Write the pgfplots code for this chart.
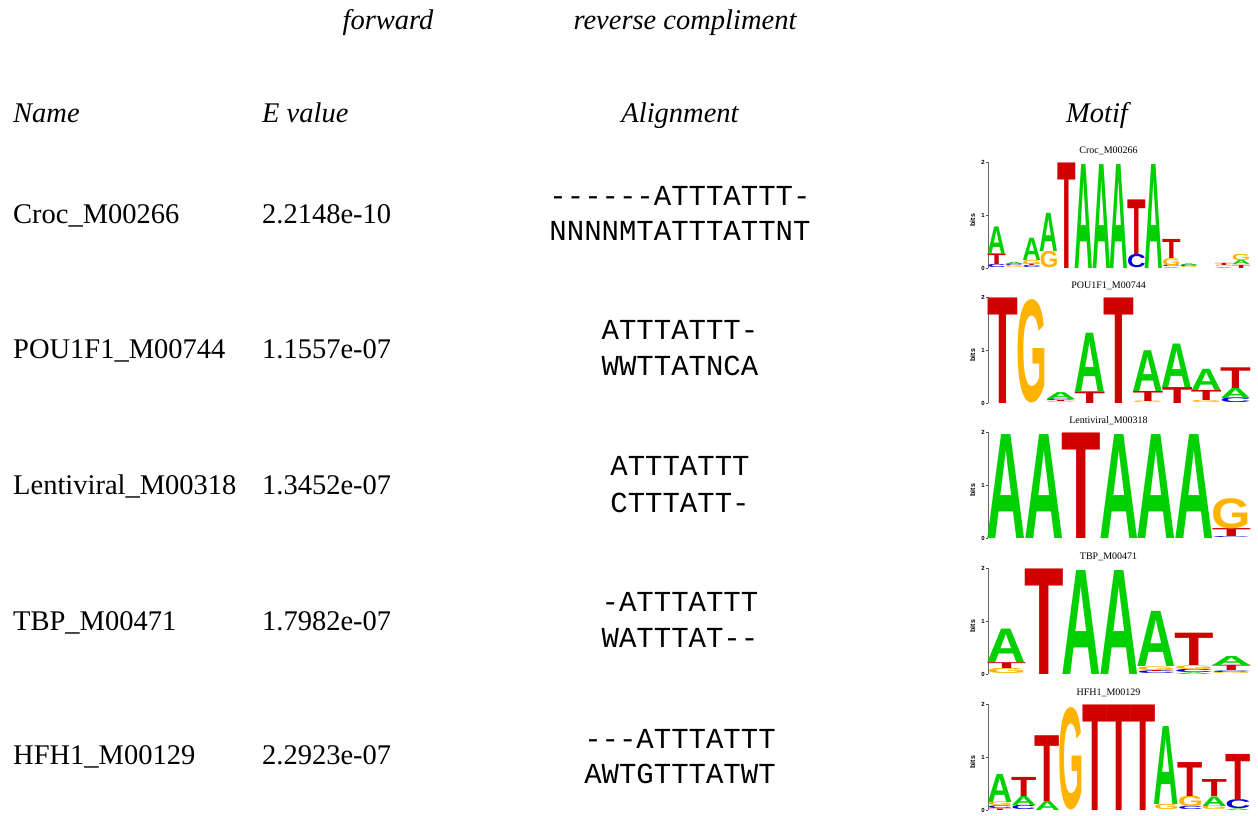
\documentclass[border=0pt]{standalone}
\usepackage{pgfplots}
\pgfplotsset{compat=1.18}
\usepackage{graphicx}
\usepackage{fontspec}
\setmainfont{Liberation Serif}
\setmonofont{Liberation Mono}
\newfontfamily\logofont{Liberation Sans}
\newfontfamily\sansfont{Liberation Sans}
\definecolor{cA}{RGB}{0,208,0}
\definecolor{cC}{RGB}{0,0,210}
\definecolor{cG}{RGB}{255,178,0}
\definecolor{cT}{RGB}{208,0,0}

\newcommand\bigtxt{\fontsize{28.5}{34}\selectfont}
\newcommand\mon{\fontsize{29}{34}\selectfont\ttfamily}

\pgfplotsset{
  logo/.style={
    scale only axis, width=262pt, height=106pt,
    anchor=south west,
    ymin=0, ymax=2, xmin=0.5, xmax=#1+0.5,
    axis x line=none, axis y line*=left,
    ytick={0,1,2}, tick align=outside, major tick length=2pt,
    y axis line style={black!60, line width=0.5pt},
    ytick style={black!70, line width=0.4pt},
    yticklabel style={font=\sansfont\bfseries\fontsize{6}{6}\selectfont, inner sep=1pt},
    /pgf/number format/assume math mode=true,
    ylabel={bits}, ylabel style={font=\sansfont\bfseries\fontsize{7}{7}\selectfont, at={(axis description cs:-0.035,0.45)}, anchor=south},
    title style={font=\fontsize{10}{10}\selectfont, at={(axis description cs:0.46,1)}, anchor=south, inner sep=1pt},
    clip=false,
  },
  letters/.style={
    draw=none, mark=none, forget plot,
    visualization depends on={value \thisrow{h} \as \lh},
    visualization depends on={value \thisrow{L} \as \nuc},
    nodes near coords={\pgfmathsetlengthmacro{\hh}{\lh*53pt}\resizebox*{#1}{\hh}{\logofont\bfseries\textcolor{c\nuc}{\nuc}}},
    every node near coord/.append style={anchor=south, inner sep=0pt, outer sep=0pt},
  }
}

\begin{document}
\begin{tikzpicture}[x=1pt,y=1pt]
\useasboundingbox (0,0) rectangle (1258,-815);

% headers
\node[anchor=base, inner sep=0pt] at (388,-29) {\bigtxt\itshape forward};
\node[anchor=base, inner sep=0pt] at (685,-29) {\bigtxt\itshape reverse compliment};
\node[anchor=base west, inner sep=0pt] at (13,-122) {\bigtxt\itshape Name};
\node[anchor=base west, inner sep=0pt] at (262,-122) {\bigtxt\itshape E value};
\node[anchor=base, inner sep=0pt] at (680,-122) {\bigtxt\itshape Alignment};
\node[anchor=base, inner sep=0pt] at (1097,-122) {\bigtxt\itshape Motif};

% rows
\node[anchor=base west, inner sep=0pt] at (13,-223) {\bigtxt Croc\_M00266};
\node[anchor=base west, inner sep=0pt] at (262,-223) {\bigtxt 2.2148e-10};
\node[anchor=base, inner sep=0pt] at (680,-205) {\mon ------ATTTATTT-};
\node[anchor=base, inner sep=0pt] at (680,-240) {\mon NNNNMTATTTATTNT};

\node[anchor=base west, inner sep=0pt] at (13,-358) {\bigtxt POU1F1\_M00744};
\node[anchor=base west, inner sep=0pt] at (262,-358) {\bigtxt 1.1557e-07};
\node[anchor=base, inner sep=0pt] at (680,-339) {\mon ATTTATTT-};
\node[anchor=base, inner sep=0pt] at (680,-375) {\mon WWTTATNCA};

\node[anchor=base west, inner sep=0pt] at (13,-494) {\bigtxt Lentiviral\_M00318};
\node[anchor=base west, inner sep=0pt] at (262,-494) {\bigtxt 1.3452e-07};
\node[anchor=base, inner sep=0pt] at (680,-475) {\mon ATTTATTT};
\node[anchor=base, inner sep=0pt] at (680,-512) {\mon CTTTATT-};

\node[anchor=base west, inner sep=0pt] at (13,-630) {\bigtxt TBP\_M00471};
\node[anchor=base west, inner sep=0pt] at (262,-630) {\bigtxt 1.7982e-07};
\node[anchor=base, inner sep=0pt] at (680,-611) {\mon -ATTTATTT};
\node[anchor=base, inner sep=0pt] at (680,-647) {\mon WATTTAT--};

\node[anchor=base west, inner sep=0pt] at (13,-764) {\bigtxt HFH1\_M00129};
\node[anchor=base west, inner sep=0pt] at (262,-764) {\bigtxt 2.2923e-07};
\node[anchor=base, inner sep=0pt] at (680,-748) {\mon ---ATTTATTT};
\node[anchor=base, inner sep=0pt] at (680,-783) {\mon AWTGTTTATWT};

% ---------- logo 1: Croc
\begin{axis}[logo=15, at={(988pt,-268pt)}, title={Croc\_M00266}]
\addplot[letters=18.6pt] table {
x y h L
1 0 0.06 C
1 0.06 0.20 T
1 0.26 0.52 A
2 0 0.04 G
2 0.04 0.03 C
2 0.07 0.04 A
3 0 0.04 C
3 0.04 0.03 T
3 0.07 0.08 G
3 0.15 0.42 A
4 0 0.31 G
4 0.31 0.72 A
5 0 1.99 T
6 0 1.96 A
7 0 1.96 A
8 0 1.96 A
9 0 0.25 C
9 0.25 1.03 T
10 0 1.96 A
11 0 0.02 A
11 0.02 0.03 C
11 0.05 0.13 G
11 0.18 0.36 T
12 0 0.02 G
12 0.02 0.03 C
12 0.05 0.03 A
14 0 0.02 A
14 0.02 0.03 G
14 0.05 0.04 T
15 0 0.06 T
15 0.06 0.08 A
15 0.14 0.12 G
};
\end{axis}

% ---------- logo 2: POU1F1
\begin{axis}[logo=9, at={(988pt,-403pt)}, title={POU1F1\_M00744}]
\addplot[letters=30.8pt] table {
x y h L
1 0 1.99 T
2 0 1.95 G
3 0 0.02 G
3 0.02 0.02 T
3 0.04 0.03 C
3 0.07 0.13 A
4 0 0.22 T
4 0.22 1.10 A
5 0 1.99 T
6 0 0.03 G
6 0.03 0.19 T
6 0.22 0.77 A
7 0 0.30 T
7 0.30 0.82 A
8 0 0.04 G
8 0.04 0.19 T
8 0.23 0.40 A
9 0 0.09 C
9 0.09 0.19 A
9 0.28 0.39 T
};
\end{axis}

% ---------- logo 3: Lentiviral
\begin{axis}[logo=7, at={(988pt,-538pt)}, title={Lentiviral\_M00318}]
\addplot[letters=39.5pt] table {
x y h L
1 0 1.96 A
2 0 1.96 A
3 0 1.99 T
4 0 1.96 A
5 0 1.96 A
6 0 1.96 A
7 0 0.02 C
7 0.02 0.15 T
7 0.17 0.57 G
};
\end{axis}

% ---------- logo 4: TBP
\begin{axis}[logo=7, at={(988pt,-674pt)}, title={TBP\_M00471}]
\addplot[letters=39.5pt] table {
x y h L
1 0 0.10 G
1 0.10 0.11 T
1 0.21 0.63 A
2 0 1.99 T
3 0 1.96 A
4 0 1.96 A
5 0 0.05 C
5 0.05 0.02 T
5 0.07 0.07 G
5 0.14 1.04 A
6 0 0.03 A
6 0.03 0.06 C
6 0.09 0.07 G
6 0.16 0.61 T
7 0 0.03 G
7 0.03 0.03 C
7 0.06 0.10 T
7 0.16 0.17 A
};
\end{axis}

% ---------- logo 5: HFH1
\begin{axis}[logo=11, at={(988pt,-810pt)}, title={HFH1\_M00129}]
\addplot[letters=25.3pt] table {
x y h L
1 0 0.03 T
1 0.03 0.05 C
1 0.08 0.07 G
1 0.15 0.53 A
2 0 0.08 C
2 0.08 0.17 A
2 0.25 0.36 T
3 0 0.17 A
3 0.17 1.24 T
4 0 1.93 G
5 0 1.99 T
6 0 1.99 T
7 0 1.99 T
8 0 0.10 G
8 0.10 1.47 A
9 0 0.06 C
9 0.06 0.20 G
9 0.26 0.64 T
10 0 0.07 G
10 0.07 0.18 A
10 0.25 0.32 T
11 0 0.03 A
11 0.03 0.17 C
11 0.20 0.85 T
};
\end{axis}
\end{tikzpicture}
\end{document}
